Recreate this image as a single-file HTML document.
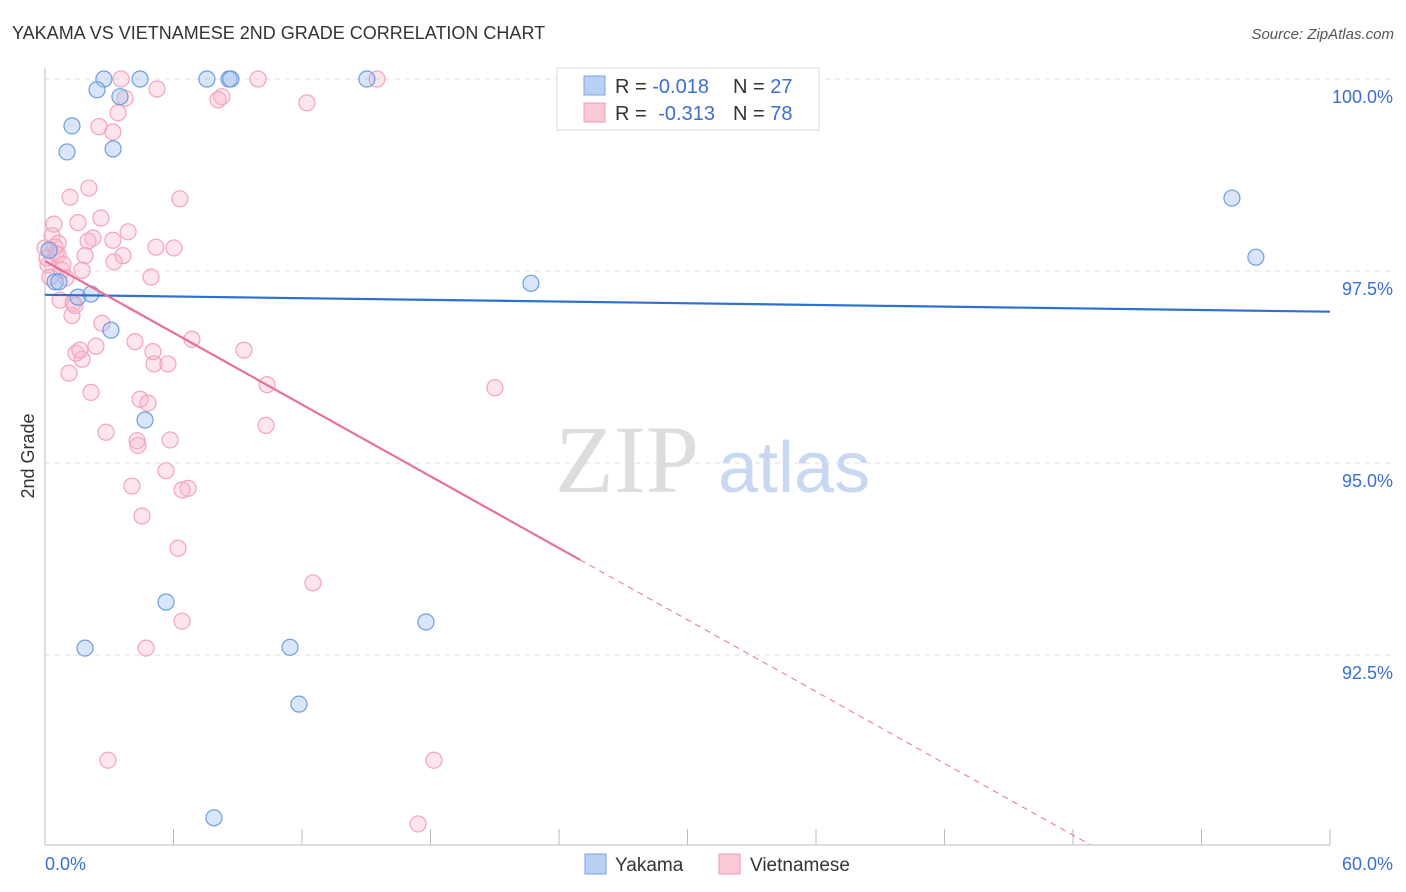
<!DOCTYPE html>
<html><head><meta charset="utf-8">
<style>
body{margin:0;background:#fff;font-family:"Liberation Sans",sans-serif;}
svg{display:block}
</style></head>
<body>
<svg id="c" width="1406" height="892">
<text x="12" y="39" font-size="18" fill="#333">YAKAMA VS VIETNAMESE 2ND GRADE CORRELATION CHART</text>
<text x="1394" y="39" font-size="15" fill="#555" font-style="italic" text-anchor="end">Source: ZipAtlas.com</text>
<text transform="translate(34,456) rotate(-90)" font-size="18" fill="#333" text-anchor="middle">2nd Grade</text>
<text x="555" y="492" font-size="96" fill="#ddd" font-family="Liberation Serif, serif">ZIP</text>
<text x="718" y="492" font-size="72" fill="#c8d8f0">atlas</text>
<g id="grid"></g><g id="axes"></g><g id="pts"></g><g id="trend"></g>
<g>
<rect x="557" y="68" width="262" height="62" fill="#fff" stroke="#ddd"/>
<rect x="584" y="76" width="21" height="19" fill="#b8d0f5" stroke="#7ba4e0"/>
<text x="615" y="93" font-size="20" fill="#333">R = <tspan fill="#3a6fd0">-0.018</tspan><tspan x="733">N = </tspan><tspan fill="#3a6fd0">27</tspan></text>
<rect x="584" y="103" width="21" height="19" fill="#fbc8d6" stroke="#f09ab5"/>
<text x="615" y="120" font-size="20" fill="#333">R = <tspan fill="#3a6fd0" dx="6">-0.313</tspan><tspan x="733">N = </tspan><tspan fill="#3a6fd0">78</tspan></text>
</g>
<g>
<rect x="585" y="854" width="21" height="20" fill="#b8d0f5" stroke="#7ba4e0"/>
<text x="615" y="871" font-size="19" fill="#333">Yakama</text>
<rect x="719" y="854" width="21" height="20" fill="#fbc8d6" stroke="#f09ab5"/>
<text x="750" y="871" font-size="19" fill="#333">Vietnamese</text>
</g>
</svg>
<script>
const yTicks=[100,97.5,95,92.5];
const yTickLabels=["100.0%","97.5%","95.0%","92.5%"];
const xTicks=[0,6,12,18,24,30,36,42,48,54,60];
const xTickLabels=["0.0%","60.0%"];
const yakamaX=[2.75,4.44,8.59,7.56,8.68,15.03,2.43,3.50,1.26,1.03,3.18,55.42,56.54,0.47,0.65,22.69,1.54,2.15,3.08,4.67,5.65,1.87,11.44,17.79,11.86,7.89,0.19];
const yakamaY=[100,100,100,100,100,100,99.86,99.77,99.39,99.05,99.09,98.45,97.68,97.36,97.36,97.34,97.16,97.20,96.73,95.56,93.19,92.59,92.60,92.93,91.86,90.38,97.77];
const vietX=[3.55,9.95,15.50,5.23,3.74,8.26,8.08,12.23,3.41,2.52,3.17,2.05,1.17,6.30,2.61,0.42,1.54,3.88,0.33,2.24,2.01,3.17,0.61,5.18,6.02,0.51,1.87,3.64,3.22,0.14,0.79,1.73,4.95,0.23,0.98,0.70,1.31,1.26,2.66,2.38,4.20,6.86,1.45,1.73,5.04,9.29,5.09,5.74,1.12,10.37,21.01,2.15,4.44,4.81,10.32,2.85,4.30,5.84,4.34,5.65,4.06,6.68,6.40,4.53,6.21,12.51,6.40,4.72,2.94,18.16,17.42,0.00,0.09,0.47,0.84,1.63,0.61,1.40];
const vietY=[100,100,100,99.87,99.75,99.77,99.73,99.69,99.56,99.38,99.31,98.58,98.46,98.44,98.19,98.11,98.13,98.01,97.96,97.93,97.89,97.90,97.86,97.81,97.80,97.73,97.70,97.70,97.62,97.58,97.51,97.51,97.42,97.42,97.41,97.12,97.08,96.92,96.82,96.52,96.58,96.61,96.43,96.35,96.45,96.47,96.29,96.29,96.17,96.02,95.98,95.92,95.83,95.78,95.49,95.40,95.29,95.30,95.23,94.90,94.70,94.67,94.65,94.31,93.89,93.44,92.94,92.59,91.13,91.13,90.30,97.80,97.67,97.81,97.59,96.47,97.71,97.05];
const yakamaTrend=[97.19,96.97];
const vietTrend=[97.63,90.03];
const vietTrendEndX=48.8, vietSolidEndX=24.98;

const X=v=>45+v*(1285/60);
const Y=v=>79+(100-v)*76.8;
const NS="http://www.w3.org/2000/svg";
function mk(t,a,p){const e=document.createElementNS(NS,t);for(const k in a)e.setAttribute(k,a[k]);p.appendChild(e);return e;}
const grid=document.getElementById('grid'),axes=document.getElementById('axes'),pts=document.getElementById('pts'),tr=document.getElementById('trend');
yTicks.forEach((t,i)=>{
 const l=mk('line',{x1:45,x2:1393,y1:Y(t),y2:Y(t),stroke:'#ddd','stroke-dasharray':'5,5'},grid);
 
 
 const tx=mk('text',{x:1393,y:Y(t)+24,'font-size':18,fill:'#3a6fd0','text-anchor':'end'},grid);
 tx.textContent=yTickLabels[i];
 
 
});
const ax=mk('line',{x1:45,x2:45,y1:68,y2:845,stroke:'#bbb'},axes);


const bx=mk('line',{x1:45,x2:1330,y1:845,y2:845,stroke:'#bbb'},axes);


xTicks.forEach(t=>{
 const l=mk('line',{x1:X(t),x2:X(t),y1:829,y2:845,stroke:'#bbb'},axes);
 
 
});
[[0,'start'],[60,'end']].forEach((p,i)=>{
 const t=mk('text',{x:X(p[0])+(i?63:0),y:870,'font-size':18,fill:'#3a6fd0','text-anchor':p[1]},axes);
 t.textContent=xTickLabels[i];
 
 
});
vietX.forEach((x,i)=>{
 const c=mk('circle',{cx:X(x),cy:Y(vietY[i]),r:8,fill:'rgba(248,180,200,0.35)',stroke:'#f3a3bd','stroke-width':1.2},pts);
 
 
});
yakamaX.forEach((x,i)=>{
 const c=mk('circle',{cx:X(x),cy:Y(yakamaY[i]),r:8,fill:'rgba(160,190,240,0.4)',stroke:'#6e9de0','stroke-width':1.2},pts);
 
 
});
const bt=mk('line',{x1:X(0),y1:Y(yakamaTrend[0]),x2:X(60),y2:Y(yakamaTrend[1]),stroke:'#2f6fd0','stroke-width':2.2},tr);


const slope=(vietTrend[1]-vietTrend[0])/vietTrendEndX;
const ys=vietTrend[0]+slope*vietSolidEndX;
const pt=mk('line',{x1:X(0),y1:Y(vietTrend[0]),x2:X(vietSolidEndX),y2:Y(ys),stroke:'#e8709a','stroke-width':2.2},tr);


const pd=mk('line',{x1:X(vietSolidEndX),y1:Y(ys),x2:X(vietTrendEndX),y2:Y(vietTrend[1]),stroke:'#e8709a','stroke-width':1,'stroke-dasharray':'6,5'},tr);


</script>
</body></html>
